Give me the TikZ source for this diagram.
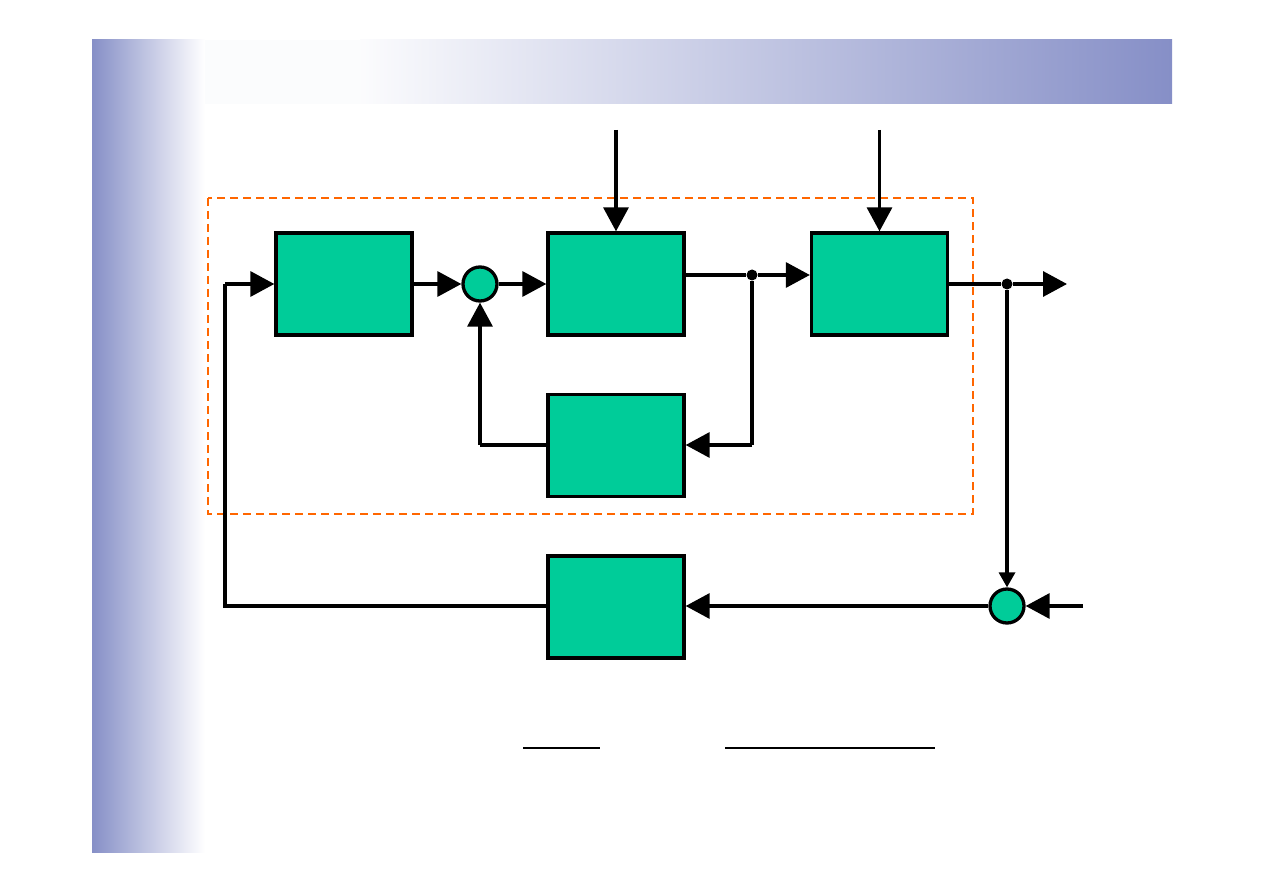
\documentclass[tikz,border=0pt]{standalone}
\usetikzlibrary{arrows.meta}
\definecolor{slide}{RGB}{134,143,199}
\definecolor{blockgreen}{RGB}{0,204,153}
\definecolor{dashorange}{RGB}{255,102,0}
\tikzset{
  blockbox/.style={draw=black, fill=blockgreen, line width=3.3pt, minimum width=136pt, minimum height=102pt, inner sep=0pt},
  sumnode/.style={circle, draw=black, fill=blockgreen, line width=3.3pt, minimum size=34pt, inner sep=0pt},
  junction/.style={circle, fill=black, minimum size=11pt, inner sep=0pt},
  wire/.style={line width=3.3pt, line join=miter},
  bigtip/.style={-{Triangle[length=24pt,width=25pt]}},
  smalltip/.style={-{Triangle[length=15pt,width=16pt]}}
}
\begin{document}
\begin{tikzpicture}[x=1pt,y=-1pt]
\useasboundingbox (0,0) rectangle (1263,893);
% slide background
\shade[left color=slide, right color=white] (92,40) rectangle (205,852);
\fill[white!97!slide] (205,40) rectangle (360,104);
\shade[left color=white!97!slide, right color=slide] (360,40) rectangle (1172,104);
% dashed frame
\draw[dashorange, line width=2.5pt, dash pattern=on 8pt off 5pt] (208,198) rectangle (973,514);
% blocks
\node[blockbox] (b1) at (344,284) {};
\node[blockbox] (b2) at (616,284) {};
\node[blockbox] (b3) at (879.5,284) {};
\node[blockbox] (b4) at (616,445.5) {};
\node[blockbox] (b5) at (616,607) {};
\node[sumnode] (s1) at (480,284) {};
\node[sumnode] (s2) at (1007,606) {};
% coordinates
\coordinate (in1) at (616,130);
\coordinate (in2) at (879.5,130);
\node[junction] (j1) at (752,275) {};
\node[junction] (j2) at (1007,284) {};
\coordinate (out) at (1067,284);
\coordinate (ref) at (1083,606);
\coordinate (c1) at (752,445);
\coordinate (c2) at (480,445);
\coordinate (c3) at (225,606);
\coordinate (c4) at (225,284);
% connectors
\draw[wire,bigtip] (in1) -- (b2.north);
\draw[wire,bigtip] (in2) -- (b3.north);
\draw[wire,bigtip] (b1.east) -- (s1.west);
\draw[wire,bigtip] (s1.east) -- (b2.west);
\draw[wire] (b2.east |- j1) -- (j1);
\draw[wire,bigtip] (j1) -- (b3.west |- j1);
\draw[wire] (j1) -- (c1);
\draw[wire,bigtip] (c1) -- (b4.east |- c1);
\draw[wire] (b4.west |- c2) -- (c2);
\draw[wire,bigtip] (c2) -- (s1.south);
\draw[wire] (b3.east) -- (j2);
\draw[wire,bigtip] (j2) -- (out);
\draw[wire,smalltip] (j2) -- (s2.north);
\draw[wire,bigtip] (ref) -- (s2.east);
\draw[wire,bigtip] (s2.west) -- (b5.east |- s2);
\draw[wire] (b5.west |- c3) -- (c3) -- (c4);
\draw[wire,bigtip] (c4) -- (b1.west);
% underlines
\coordinate (u1a) at (523,748);
\coordinate (u1b) at (600,748);
\coordinate (u2a) at (725,748);
\coordinate (u2b) at (935,748);
\draw[line width=1.8pt] (u1a) -- (u1b);
\draw[line width=1.8pt] (u2a) -- (u2b);
\end{tikzpicture}
\end{document}
